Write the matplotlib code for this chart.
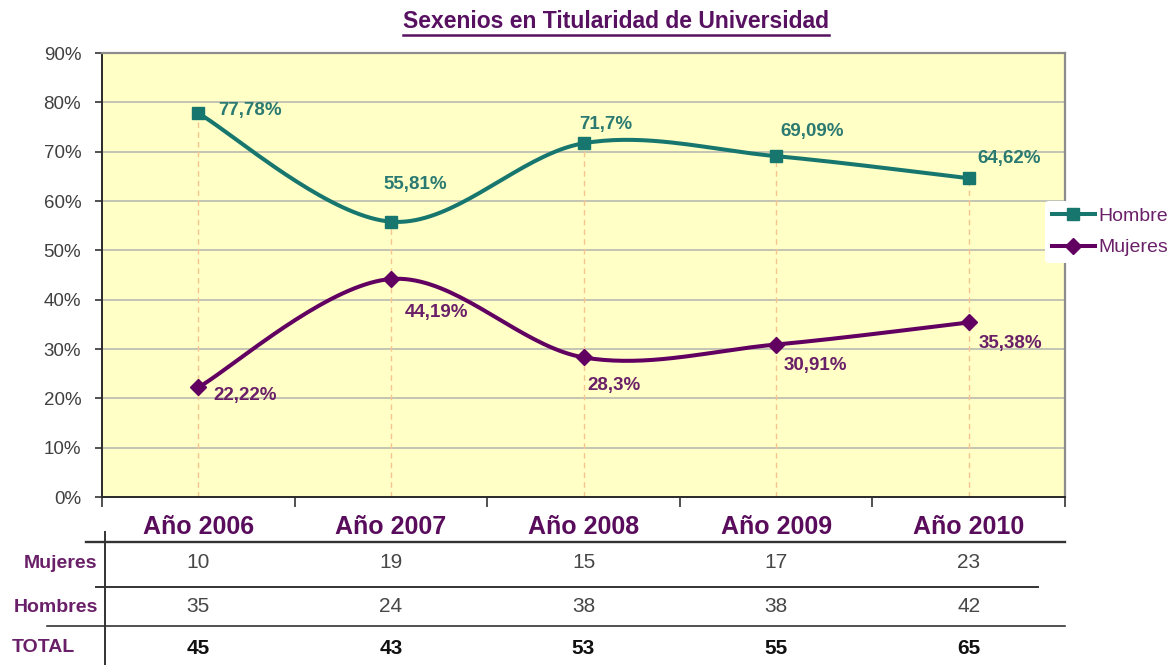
import numpy as np
import matplotlib
matplotlib.use("Agg")
import matplotlib.pyplot as plt
from matplotlib.lines import Line2D
from matplotlib.transforms import blended_transform_factory

plt.rcParams['font.family'] = ['Liberation Sans', 'DejaVu Sans']

# data
years = ["Año 2006", "Año 2007", "Año 2008", "Año 2009", "Año 2010"]
hombres_pct = [77.78, 55.81, 71.7, 69.09, 64.62]
mujeres_pct = [22.22, 44.19, 28.3, 30.91, 35.38]
mujeres_n = [10, 19, 15, 17, 23]
hombres_n = [35, 24, 38, 38, 42]
total_n = [45, 43, 53, 55, 65]

W, H = 1174, 665
TEAL = "#17766e"
PURPLE = "#620062"
TEAL_TXT = "#2b7a72"
PURPLE_TXT = "#6a2068"
HEAD = "#5a0c5c"


def fx(px):
    return px / W


def fy(py):
    return 1 - py / H


def fmt_pct(v):
    s = ("%.2f" % v).rstrip("0").rstrip(".")
    return s.replace(".", ",") + "%"


def smooth(xs, ys, n=40):
    """Bezier smoothing through the points (same style as spreadsheet smoothed lines)."""
    pts = np.column_stack([xs, ys]).astype(float)
    p = np.vstack([pts[0], pts, pts[-1]])
    out = []
    t = np.linspace(0, 1, n)[:, None]
    for i in range(1, len(p) - 2):
        p0, p1, p2, p3 = p[i - 1], p[i], p[i + 1], p[i + 2]
        c1 = p1 + (p2 - p0) / 6
        c2 = p2 - (p3 - p1) / 6
        seg = (1 - t) ** 3 * p1 + 3 * (1 - t) ** 2 * t * c1 + 3 * (1 - t) * t ** 2 * c2 + t ** 3 * p2
        out.append(seg if i == 1 else seg[1:])
    out = np.vstack(out)
    return out[:, 0], out[:, 1]


fig = plt.figure(figsize=(W / 100, H / 100), dpi=100)
ax = fig.add_axes([fx(102), fy(497), fx(1065) - fx(102), fy(53) - fy(497)])
ax.set_facecolor("#ffffc6")

x = np.arange(len(years))
ax.set_xlim(-0.5, len(years) - 0.5)
ax.set_ylim(0, 90)

# grid
ax.set_yticks(np.arange(0, 91, 10))
ax.set_yticklabels(["%d%%" % v for v in range(0, 91, 10)], fontsize=13.5, color="#404040")
ax.yaxis.grid(True, color="#c4c4b4", lw=1.4)
ax.set_axisbelow(True)
ax.set_xticks(np.arange(-0.5, len(years), 1.0))
ax.set_xticklabels([])
ax.tick_params(axis="y", length=5, width=1.2, color="#333333", pad=10)
ax.tick_params(axis="x", length=7, width=1.2, color="#333333")
for s in ["left", "bottom"]:
    ax.spines[s].set_color("#2a2a2a")
    ax.spines[s].set_linewidth(1.4)
for s in ["top", "right"]:
    ax.spines[s].set_color("#8c8c8c")
    ax.spines[s].set_linewidth(1.6)

# drop lines
for xi, hv, mv in zip(x, hombres_pct, mujeres_pct):
    ax.plot([xi, xi], [0, max(hv, mv)], color="#f6c48e", lw=1.0, ls=(0, (4, 3)), zorder=1)

# series
hx, hy = smooth(x, hombres_pct)
mx, my = smooth(x, mujeres_pct)
ax.plot(hx, hy, color=TEAL, lw=2.9, zorder=3, solid_capstyle="round")
ax.plot(mx, my, color=PURPLE, lw=2.9, zorder=3, solid_capstyle="round")
ax.plot(x, hombres_pct, ls="none", marker="s", ms=8.5, color=TEAL, zorder=4)
ax.plot(x, mujeres_pct, ls="none", marker="D", ms=8, color=PURPLE, zorder=4)

# value labels (offsets in pixels, right / up)
h_off = [(52, 3), (24, 37), (22, 19), (36, 25), (40, 20)]
m_off = [(47, -8), (46, -34), (31, -28), (39, -21), (42, -21)]
for xi, v, (dx, dy) in zip(x, hombres_pct, h_off):
    ax.annotate(fmt_pct(v), (xi, v), xytext=(dx * 0.72, dy * 0.72), textcoords="offset points",
                ha="center", va="center", fontsize=13.5, fontweight="bold", color=TEAL_TXT, zorder=5)
for xi, v, (dx, dy) in zip(x, mujeres_pct, m_off):
    ax.annotate(fmt_pct(v), (xi, v), xytext=(dx * 0.72, dy * 0.72), textcoords="offset points",
                ha="center", va="center", fontsize=13.5, fontweight="bold", color=PURPLE_TXT, zorder=5)

# title with underline
title = fig.text(fx(616), fy(22), "Sexenios en Titularidad de Universidad", ha="center", va="center",
                 fontsize=16.5, fontweight="bold", color="#581060")

# legend
handles = [Line2D([], [], color=TEAL, lw=2.9, marker="s", ms=8.5),
           Line2D([], [], color=PURPLE, lw=2.9, marker="D", ms=8)]
fig.legend(handles, ["Hombre", "Mujeres"], loc="center left", bbox_to_anchor=(fx(1045), fy(232)),
           frameon=True, facecolor="white", edgecolor="none", framealpha=1, fontsize=14,
           labelcolor=PURPLE_TXT, handlelength=2.2, handletextpad=0.2, labelspacing=0.7,
           borderpad=0.35, borderaxespad=0)

# data table under the axis
tr = blended_transform_factory(ax.transData, fig.transFigure)
for xi, name in zip(x, years):
    ax.text(xi, fy(527), name, transform=tr, ha="center", va="center", fontsize=18,
            fontweight="bold", color=HEAD, clip_on=False)
for xi, a, b, c in zip(x, mujeres_n, hombres_n, total_n):
    ax.text(xi, fy(563), str(a), transform=tr, ha="center", va="center", fontsize=15,
            color="#474747", clip_on=False)
    ax.text(xi, fy(607), str(b), transform=tr, ha="center", va="center", fontsize=15,
            color="#474747", clip_on=False)
    ax.text(xi, fy(648), str(c), transform=tr, ha="center", va="center", fontsize=15,
            fontweight="bold", color="#111111", clip_on=False)

fig.text(fx(97), fy(563), "Mujeres", ha="right", va="center", fontsize=14, fontweight="bold", color=PURPLE_TXT)
fig.text(fx(98), fy(607), "Hombres", ha="right", va="center", fontsize=14, fontweight="bold", color=PURPLE_TXT)
fig.text(fx(12), fy(648), "TOTAL", ha="left", va="center", fontsize=14, fontweight="bold", color=PURPLE_TXT)

table_lines = [((86, 1065), (542, 542), 1.7), ((96, 1038), (587, 587), 1.4),
               ((47, 1065), (626, 626), 1.2), ((105, 105), (532, 665), 1.4)]
for (x0, x1), (y0, y1), lw in table_lines:
    fig.add_artist(Line2D([fx(x0), fx(x1)], [fy(y0), fy(y1)], transform=fig.transFigure,
                          color="#333333", lw=lw))

fig.canvas.draw()
bb = title.get_window_extent().transformed(fig.transFigure.inverted())
fig.add_artist(Line2D([bb.x0, bb.x1], [bb.y0 - 1.5 / H, bb.y0 - 1.5 / H], transform=fig.transFigure,
                      color="#581060", lw=1.8))

fig.savefig("out.png", dpi=100, facecolor="white")
